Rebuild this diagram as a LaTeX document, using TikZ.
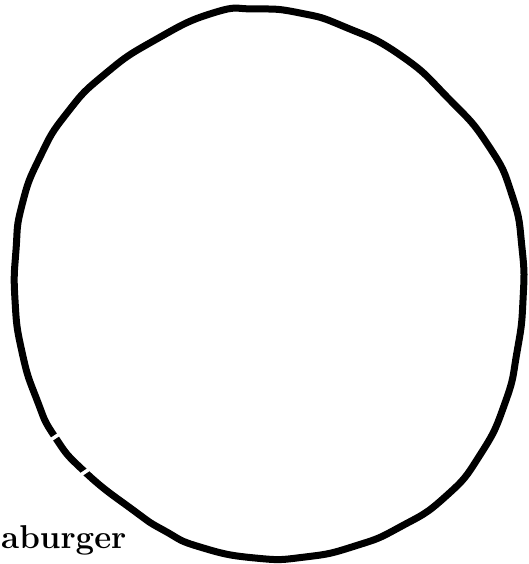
\documentclass[tikz,border=0pt]{standalone}
\usepackage{fontspec}
\usepackage{tikz}
\usetikzlibrary{positioning}

\begin{document}
\begin{tikzpicture}[x=1pt,y=-1pt,
every node/.style={inner sep=0pt,font=\fontsize{33}{38}\selectfont\bfseries}]

\useasboundingbox (0,0) rectangle (529,564);

\draw[line width=7pt,line join=round] plot[smooth cycle,tension=0.9] coordinates {
(213,13) (255,9) (300,13) (345,27) (400,55) (448,98) (488,145)
(512,195) (522,248) (523,300) (517,352) (505,403) (480,455) (445,497)
(400,527) (355,546) (305,557) (255,558) (200,547) (165,531) (133,510)
(85,472) (55,437) (37,400) (22,352) (15,300) (16,250) (22,205)
(40,157) (67,113) (105,74) (155,40)};

% breaks in the line
\draw[white,line width=3.5pt] (46.7,442.5) -- (63.3,431.5);
\draw[white,line width=3.5pt] (76.7,477.5) -- (93.3,466.5);

\node[anchor=base west] (word) at (1,548) {aburger};

\end{tikzpicture}
\end{document}
